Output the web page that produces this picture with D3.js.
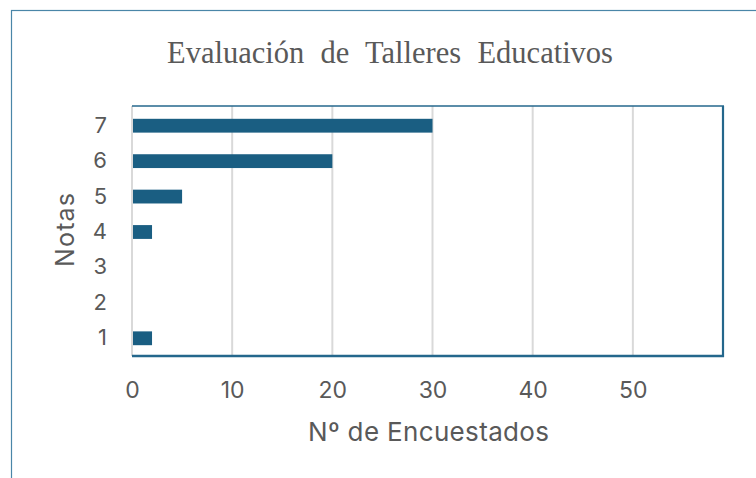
<!DOCTYPE html>
<html>
<head>
<meta charset="utf-8">
<script src="https://cdn.jsdelivr.net/npm/d3@7"></script>
<style>
  html, body { margin: 0; padding: 0; background: #ffffff; }
  svg { display: block; }
</style>
</head>
<body>
<svg id="chart" width="756" height="478"></svg>
<script>
const notas = ["7", "6", "5", "4", "3", "2", "1"];
const encuestados = [30, 20, 5, 2, 0, 0, 2];
const xTicks = [0, 10, 20, 30, 40, 50];
const xMax = 59;
const titleText = "Evaluación de Talleres Educativos";
const xTitleText = "Nº de Encuestados";
const yTitleText = "Notas";

const svg = d3.select("#chart");
const W = 756, H = 478;
const plot = { left: 132, right: 723, top: 106, bottom: 356 };
const sans = "Inter, 'Liberation Sans', Arial, sans-serif";
const grey = "#595959";
const barColor = "#1a5e82";
const frameColor = "#24678c";

// outer chart border (clipped by viewport on the right/bottom)
svg.append("rect")
  .attr("x", 11.5).attr("y", 10.5)
  .attr("width", W + 20).attr("height", H + 20)
  .attr("fill", "#ffffff")
  .attr("stroke", "#4a86a8").attr("stroke-width", 1.2);

const x = d3.scaleLinear().domain([0, xMax]).range([plot.left, plot.right]);
const y = d3.scaleBand().domain(notas).range([plot.top + 2, plot.bottom])
  .paddingInner(0.61).paddingOuter(0.305);

// gridlines
svg.append("g").selectAll("line").data(xTicks).join("line")
  .attr("x1", d => x(d)).attr("x2", d => x(d))
  .attr("y1", plot.top).attr("y2", plot.bottom)
  .attr("stroke", "#d9d9d9").attr("stroke-width", 2);

// bars
svg.append("g").selectAll("rect").data(notas).join("rect")
  .attr("x", x(0) + 1)
  .attr("y", (d) => y(d))
  .attr("width", (d, i) => Math.max(0, x(encuestados[i]) - x(0) - 1))
  .attr("height", y.bandwidth())
  .attr("fill", barColor);

// plot frame: top, right, bottom
svg.append("line").attr("x1", plot.left).attr("x2", plot.right + 1)
  .attr("y1", plot.top).attr("y2", plot.top)
  .attr("stroke", frameColor).attr("stroke-width", 1.3);
svg.append("line").attr("x1", plot.right).attr("x2", plot.right)
  .attr("y1", plot.top).attr("y2", plot.bottom + 1)
  .attr("stroke", frameColor).attr("stroke-width", 2.2);
svg.append("line").attr("x1", plot.left).attr("x2", plot.right + 1)
  .attr("y1", plot.bottom).attr("y2", plot.bottom)
  .attr("stroke", frameColor).attr("stroke-width", 2.4);

// axes
const xAxis = d3.axisBottom(x).tickValues(xTicks).tickSize(0).tickPadding(26);
const gx = svg.append("g").attr("transform", `translate(0,${plot.bottom})`).call(xAxis);
gx.select(".domain").remove();
gx.selectAll("text").attr("fill", grey).style("font-family", sans).style("font-size", "23px");

const yAxis = d3.axisLeft(y).tickSize(0).tickPadding(25);
const gy = svg.append("g").attr("transform", `translate(${plot.left},0)`).call(yAxis);
gy.select(".domain").remove();
gy.selectAll("text").attr("fill", grey).style("font-family", sans).style("font-size", "22px");

// title: fit width with word spacing
const title = svg.append("text")
  .attr("x", 390).attr("y", 63)
  .attr("text-anchor", "middle")
  .style("font-family", "'Liberation Serif', 'Times New Roman', serif")
  .style("font-size", "30.5px")
  .attr("fill", grey)
  .text(titleText);
{
  const nat = title.node().getComputedTextLength();
  const gaps = titleText.split(" ").length - 1;
  const ws = Math.max(0, (446 - nat) / gaps);
  title.style("word-spacing", ws + "px");
}

// x axis title
const xt = svg.append("text")
  .attr("x", 428.5).attr("y", 441)
  .attr("text-anchor", "middle")
  .style("font-family", sans).style("font-size", "26px")
  .attr("fill", grey)
  .text(xTitleText);
{
  const nat = xt.node().getComputedTextLength();
  if (nat < 241) xt.attr("textLength", 241).attr("lengthAdjust", "spacing");
}

// y axis title
const yt = svg.append("text")
  .attr("transform", "translate(74,230) rotate(-90)")
  .attr("text-anchor", "middle")
  .style("font-family", sans).style("font-size", "25px")
  .attr("fill", grey)
  .text(yTitleText);
{
  const nat = yt.node().getComputedTextLength();
  if (nat < 74) yt.attr("textLength", 74).attr("lengthAdjust", "spacing");
}
</script>
</body>
</html>
